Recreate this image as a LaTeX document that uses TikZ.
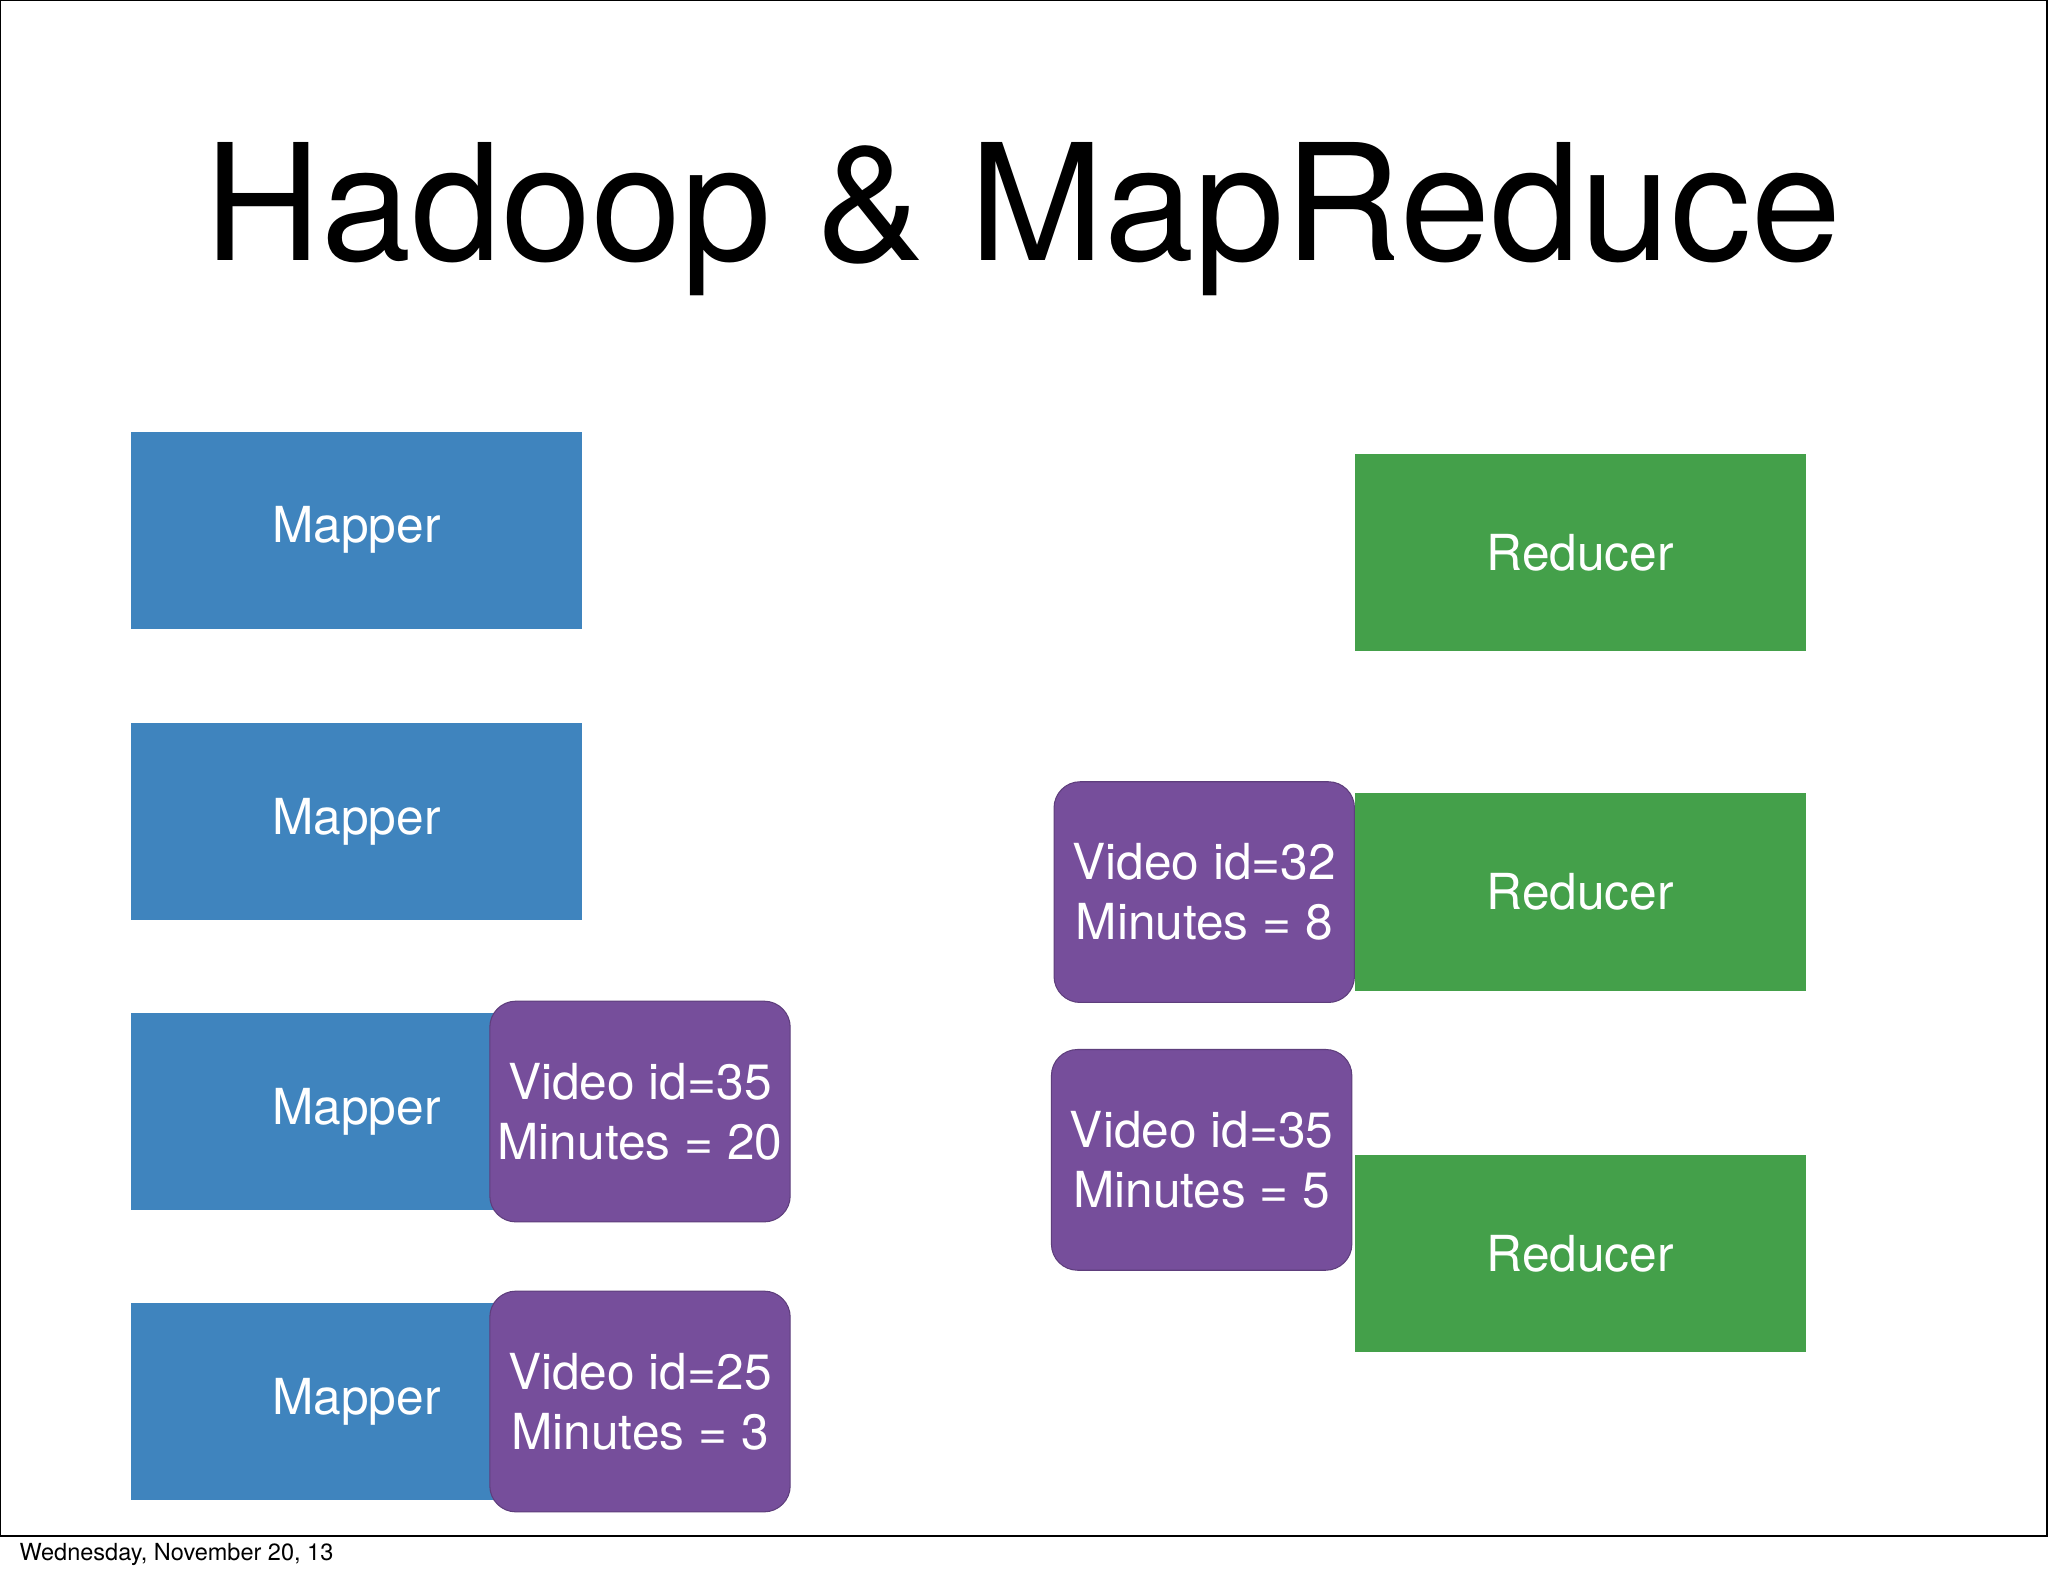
\documentclass[tikz,border=0pt]{standalone}
\usepackage{fontspec}
\setmainfont{TeX Gyre Heros}
\begin{document}
\begin{tikzpicture}[x=0.5pt,y=-0.5pt,
 box/.style={draw=none,minimum width=172.5pt,minimum height=75.5pt,inner sep=0pt,text=white,font=\fontsize{19}{22}\selectfont},
 map/.style={box,fill=mblue},
 red/.style={box,fill=rgreen},
 kv/.style={box,fill=kpurple,rounded corners=10pt,minimum width=115pt,minimum height=84.5pt,align=center,font=\fontsize{19}{23}\selectfont,draw=kpurple!80!black,line width=0.4pt}]
\definecolor{mblue}{HTML}{3F84BE}
\definecolor{rgreen}{HTML}{44A04A}
\definecolor{kpurple}{HTML}{764E9B}
\useasboundingbox (0,0) rectangle (1568,1207);
\fill[white] (0,0) rectangle (1568,1207);
\draw[line width=0.6pt] (0,0) rectangle (1567,1176);
\node (title) at (783,168) {\fontsize{62}{68}\selectfont Hadoop \& MapReduce};
\node[anchor=west,font=\fontsize{9}{10}\selectfont] (foot) at (8,1190) {Wednesday, November 20, 13};
\node[map,anchor=north west] (m1) at (100,330) {Mapper};
\node[map,anchor=north west] (m2) at (100,553) {Mapper};
\node[map,anchor=north west] (m3) at (100,775) {Mapper};
\node[map,anchor=north west] (m4) at (100,997) {Mapper};
\node[red,anchor=north west] (r1) at (1037,347) {Reducer};
\node[red,anchor=north west] (r2) at (1037,607) {Reducer};
\node[red,anchor=north west] (r3) at (1037,884) {Reducer};
\node[kv] (k1) at (490,851) {Video id=35\\Minutes = 20};
\node[kv] (k2) at (490,1073) {Video id=25\\Minutes = 3};
\node[kv] (k3) at (922,683) {Video id=32\\Minutes = 8};
\node[kv] (k4) at (920,888) {Video id=35\\Minutes = 5};
\end{tikzpicture}
\end{document}
